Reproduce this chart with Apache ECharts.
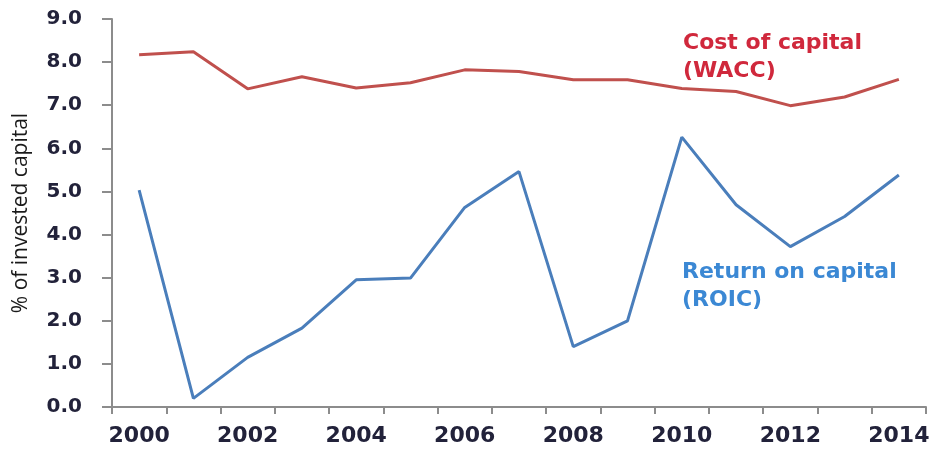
<!DOCTYPE html>
<html><head><meta charset="utf-8">
<script src="https://cdn.jsdelivr.net/npm/echarts@6/dist/echarts.min.js"></script>
<style>html,body{margin:0;padding:0;background:#fff}#c{width:934px;height:452px}</style>
</head><body><div id="c"></div>
<script>
const years = ['2000','2001','2002','2003','2004','2005','2006','2007','2008','2009','2010','2011','2012','2013','2014'];
const wacc = [8.17,8.24,7.38,7.66,7.40,7.52,7.82,7.78,7.59,7.59,7.39,7.32,6.99,7.19,7.60];
const roic = [5.03,0.20,1.15,1.83,2.95,2.99,4.63,5.46,1.40,2.00,6.26,4.69,3.72,4.42,5.38];
const yTicks = [0,1,2,3,4,5,6,7,8,9];
const yTitle = '% of invested capital';
const waccLabel = 'Cost of capital\n(WACC)';
const roicLabel = 'Return on capital\n(ROIC)';

const chart = echarts.init(document.getElementById('c'), null, {renderer:'canvas'});
const axisColor = '#8c8c8c';
const tickText = '#22223a';
chart.setOption({
  animation:false,
  grid:{left:112, right:8, top:19, bottom:45, containLabel:false},
  xAxis:{
    type:'category', data:years, boundaryGap:true,
    axisLine:{lineStyle:{color:axisColor, width:2}},
    axisTick:{show:true, interval:0, length:7, lineStyle:{color:axisColor, width:2}},
    axisLabel:{interval:1, margin:18, color:tickText, fontFamily:'DejaVu Sans', fontWeight:'bold', fontSize:22}
  },
  yAxis:{
    type:'value', min:yTicks[0], max:yTicks[yTicks.length-1], interval:1,
    name:yTitle, nameLocation:'middle', nameRotate:90, nameGap:80,
    nameTextStyle:{color:'#1a1a1a', fontFamily:'Open Sans', fontSize:21},
    splitLine:{show:false},
    axisLine:{show:true, lineStyle:{color:axisColor, width:2}},
    axisTick:{show:true, length:10, lineStyle:{color:axisColor, width:2}},
    axisLabel:{margin:30, color:tickText, fontFamily:'DejaVu Sans', fontWeight:'bold', fontSize:20,
      formatter:v=>v.toFixed(1)}
  },
  series:[
    {name:'WACC', type:'line', data:wacc, symbol:'none', lineStyle:{color:'#C0504D', width:3}},
    {name:'ROIC', type:'line', data:roic, symbol:'none', lineStyle:{color:'#4A7EBB', width:3}}
  ],
  graphic:[
    {type:'text', left:683, top:29, style:{text:waccLabel, fill:'#D0283C', font:'bold 22px "DejaVu Sans"', lineHeight:28}},
    {type:'text', left:682, top:258, style:{text:roicLabel, fill:'#3B88D4', font:'bold 22px "DejaVu Sans"', lineHeight:28}}
  ]
});
</script></body></html>
